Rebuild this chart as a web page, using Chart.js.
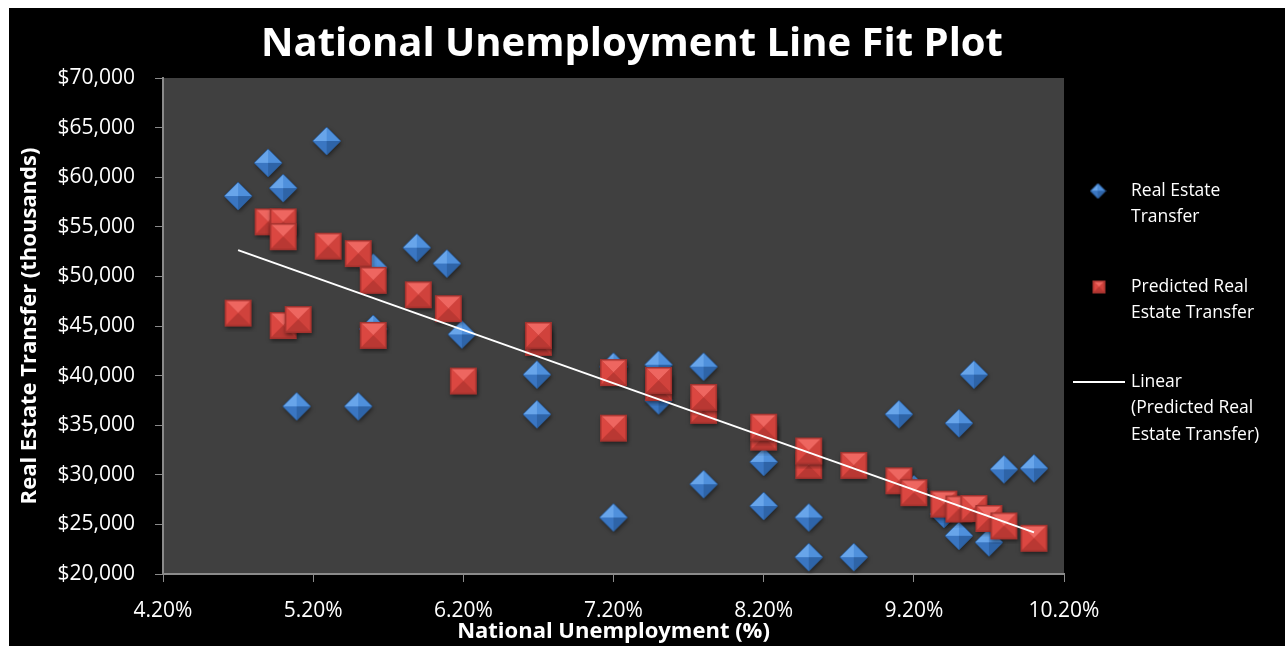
<!DOCTYPE html>
<html>
<head>
<meta charset="utf-8">
<script src="https://cdn.jsdelivr.net/npm/chart.js@4"></script>
<style>
  html, body { margin: 0; padding: 0; background: #fff; }
  #wrap { width: 1285px; height: 647px; }
</style>
</head>
<body>
<div id="wrap"><canvas id="grafico" width="1285" height="647"></canvas></div>
<script>
// --- DATOS ---
const realX = [4.70, 4.90, 5.00, 5.09, 5.29, 5.50, 5.60, 5.60, 5.89, 6.09, 6.19, 6.69, 6.69, 7.20, 7.20, 7.50, 7.50, 7.80, 7.80, 8.20, 8.20, 8.50, 8.50, 8.80, 9.10, 9.20, 9.40, 9.50, 9.50, 9.60, 9.70, 9.80, 10.00];
const realY = [58100, 61450, 58900, 36900, 63650, 36900, 50900, 44700, 52900, 51300, 44150, 40100, 36100, 40900, 25700, 41100, 37500, 40900, 29050, 31300, 26850, 25700, 21700, 21700, 36100, 28550, 26050, 35200, 23850, 40100, 23200, 30550, 30650];

const predX = [4.70, 4.90, 5.00, 5.00, 5.00, 5.10, 5.30, 5.50, 5.60, 5.60, 5.90, 6.10, 6.20, 6.70, 6.70, 7.20, 7.20, 7.50, 7.50, 7.80, 7.80, 8.20, 8.20, 8.50, 8.50, 8.80, 9.10, 9.20, 9.40, 9.50, 9.60, 9.70, 9.80, 10.00];
const predY = [46300, 55500, 55500, 54000, 45050, 45650, 53050, 52300, 49600, 44050, 48150, 46750, 39450, 43350, 44050, 40300, 34700, 38800, 39500, 36500, 37800, 33800, 34800, 30950, 32400, 30950, 29400, 28200, 27050, 26550, 26600, 25600, 24850, 23600];

// linea de tendencia (extremos leídos)
const trendX = [4.70, 10.00];
const trendY = [52650, 24200];

const xTicks = [4.2, 5.2, 6.2, 7.2, 8.2, 9.2, 10.2];
const yMin = 20000, yMax = 70000, yStep = 5000;

const titleText = "National Unemployment Line Fit Plot";
const xTitle = "National Unemployment (%)";
const yTitle = "Real Estate Transfer (thousands)";
const legendItems = [
    { kind: "diamond", lines: ["Real Estate", "Transfer"] },
    { kind: "square", lines: ["Predicted Real", "Estate Transfer"] },
    { kind: "line", lines: ["Linear", "(Predicted Real", "Estate Transfer)"] }
];

// --- MARCADORES CON RELIEVE ---
function tri(ctx, a, b, c, color) {
    ctx.beginPath();
    ctx.moveTo(a[0], a[1]); ctx.lineTo(b[0], b[1]); ctx.lineTo(c[0], c[1]);
    ctx.closePath();
    ctx.fillStyle = color;
    ctx.fill();
}

function makeDiamond(size, shadow) {
    const pad = shadow ? 5 : 1;
    const c = document.createElement('canvas');
    c.width = c.height = size + pad * 2;
    const ctx = c.getContext('2d');
    const m = c.width / 2, r = size / 2;
    const T = [m, m - r], R = [m + r, m], B = [m, m + r], L = [m - r, m], C = [m, m];
    ctx.save();
    if (shadow) {
        ctx.shadowColor = 'rgba(0,0,0,0.5)';
        ctx.shadowBlur = 4; ctx.shadowOffsetX = 1; ctx.shadowOffsetY = 2;
    }
    ctx.beginPath();
    ctx.moveTo(...T); ctx.lineTo(...R); ctx.lineTo(...B); ctx.lineTo(...L); ctx.closePath();
    ctx.fillStyle = '#2f67ad';
    ctx.fill();
    ctx.restore();
    tri(ctx, T, L, C, '#68a5ea');
    tri(ctx, T, R, C, '#4f90dc');
    tri(ctx, L, B, C, '#3a76c2');
    tri(ctx, R, B, C, '#2e64a8');
    ctx.beginPath();
    ctx.moveTo(...T); ctx.lineTo(...R); ctx.lineTo(...B); ctx.lineTo(...L); ctx.closePath();
    ctx.strokeStyle = '#2b5b96';
    ctx.lineWidth = 1;
    ctx.stroke();
    return c;
}

function makeSquare(size, shadow) {
    const pad = shadow ? 5 : 1;
    const c = document.createElement('canvas');
    c.width = c.height = size + pad * 2;
    const ctx = c.getContext('2d');
    const a = pad, b = pad + size, m = c.width / 2;
    const TL = [a, a], TR = [b, a], BR = [b, b], BL = [a, b], C = [m, m];
    ctx.save();
    if (shadow) {
        ctx.shadowColor = 'rgba(0,0,0,0.5)';
        ctx.shadowBlur = 4; ctx.shadowOffsetX = 1; ctx.shadowOffsetY = 2;
    }
    ctx.fillStyle = '#b8342f';
    ctx.fillRect(a, a, size, size);
    ctx.restore();
    tri(ctx, TL, TR, C, '#ee6660');
    tri(ctx, TL, BL, C, '#db4741');
    tri(ctx, TR, BR, C, '#d0423c');
    tri(ctx, BL, BR, C, '#b93833');
    ctx.strokeStyle = '#a3322e';
    ctx.lineWidth = 1.5;
    ctx.strokeRect(a + 0.75, a + 0.75, size - 1.5, size - 1.5);
    return c;
}

const diamondImg = makeDiamond(28, true);
const squareImg = makeSquare(27, true);
const diamondLegend = makeDiamond(15, false);
const squareLegend = makeSquare(13, false);

// --- FONDO, TITULOS Y LEYENDA ---
const fondo = {
    id: 'fondo',
    beforeDraw(chart) {
        const { ctx, chartArea: a } = chart;
        ctx.save();
        ctx.fillStyle = '#ffffff';
        ctx.fillRect(0, 0, chart.width, chart.height);
        ctx.fillStyle = '#000000';
        ctx.fillRect(9, 8, chart.width - 9, chart.height - 9);
        ctx.fillStyle = '#404040';
        ctx.fillRect(a.left, a.top, a.right - a.left, a.bottom - a.top);
        ctx.restore();
    }
};

const textos = {
    id: 'textos',
    afterDraw(chart) {
        const { ctx, chartArea: a } = chart;
        ctx.save();
        ctx.fillStyle = '#ffffff';
        ctx.textAlign = 'center';
        ctx.textBaseline = 'middle';

        ctx.font = "bold 40px 'Open Sans'";
        ctx.fillText(titleText, 632, 45);

        ctx.font = "bold 22px 'Open Sans'";
        ctx.fillText(xTitle, (a.left + a.right) / 2, 632);

        ctx.save();
        ctx.translate(30, (a.top + a.bottom) / 2);
        ctx.rotate(-Math.PI / 2);
        ctx.fillText(yTitle, 0, 0);
        ctx.restore();

        // leyenda
        ctx.font = "17.5px 'Open Sans'";
        ctx.textAlign = 'left';
        const tops = [191, 287, 382];
        legendItems.forEach((it, i) => {
            const y = tops[i];
            if (it.kind === 'diamond') {
                ctx.drawImage(diamondLegend, 1098 - diamondLegend.width / 2, y - diamondLegend.height / 2);
            } else if (it.kind === 'square') {
                ctx.drawImage(squareLegend, 1099 - squareLegend.width / 2, y - squareLegend.height / 2);
            } else {
                ctx.strokeStyle = '#ffffff';
                ctx.lineWidth = 2;
                ctx.beginPath();
                ctx.moveTo(1073, y);
                ctx.lineTo(1125, y);
                ctx.stroke();
            }
            it.lines.forEach((t, j) => ctx.fillText(t, 1131, y + j * 26.5));
        });
        ctx.restore();
    }
};

const ctx = document.getElementById('grafico');

new Chart(ctx, {
    type: 'scatter',
    data: {
        datasets: [
            {
                type: 'line',
                label: 'Linear (Predicted Real Estate Transfer)',
                data: trendX.map((x, i) => ({ x: x, y: trendY[i] })),
                borderColor: '#ffffff',
                borderWidth: 2,
                pointRadius: 0,
                fill: false,
                order: 0
            },
            {
                label: 'Predicted Real Estate Transfer',
                data: predX.map((x, i) => ({ x: x, y: predY[i] })),
                pointStyle: squareImg,
                pointRadius: 14,
                order: 1
            },
            {
                label: 'Real Estate Transfer',
                data: realX.map((x, i) => ({ x: x, y: realY[i] })),
                pointStyle: diamondImg,
                pointRadius: 14,
                order: 2
            }
        ]
    },
    options: {
        responsive: false,
        animation: false,
        layout: { padding: { top: 78, left: 0, right: 221, bottom: 0 } },
        plugins: {
            legend: { display: false },
            title: { display: false },
            tooltip: { enabled: false }
        },
        scales: {
            x: {
                type: 'linear',
                min: xTicks[0],
                max: xTicks[xTicks.length - 1],
                afterBuildTicks: s => { s.ticks = xTicks.map(v => ({ value: v })); },
                afterFit: s => { s.height = 73; s.paddingLeft = 0; s.paddingRight = 0; },
                grid: { drawOnChartArea: false, drawTicks: true, tickLength: 8, color: '#8a8a8a', lineWidth: 1 },
                border: { display: true, color: '#8a8a8a', width: 2 },
                ticks: {
                    color: '#ffffff',
                    padding: 16,
                    maxRotation: 0,
                    font: { family: "'Open Sans'", size: 21 },
                    callback: v => v.toFixed(2) + '%'
                }
            },
            y: {
                min: yMin,
                max: yMax,
                afterFit: s => { s.width = 163; s.paddingTop = 0; s.paddingBottom = 0; },
                grid: { drawOnChartArea: false, drawTicks: true, tickLength: 8, color: '#8a8a8a', lineWidth: 1 },
                border: { display: true, color: '#8a8a8a', width: 2 },
                ticks: {
                    stepSize: yStep,
                    color: '#ffffff',
                    padding: 20,
                    font: { family: "'Open Sans'", size: 21 },
                    callback: v => '$' + v.toLocaleString('en-US')
                }
            }
        }
    },
    plugins: [fondo, textos]
});
</script>
</body>
</html>
